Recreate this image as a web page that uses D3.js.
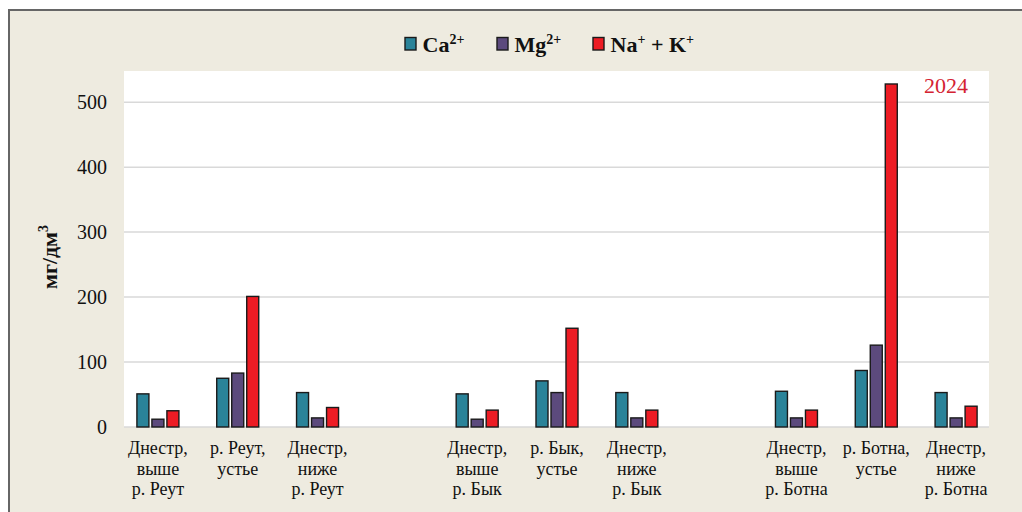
<!DOCTYPE html>
<html><head><meta charset="utf-8">
<script src="https://cdn.jsdelivr.net/npm/d3@7"></script>
<style>
html,body{margin:0;padding:0;background:#fff;}
svg{display:block;}
svg text{font-family:"Liberation Serif","Times New Roman",Tinos,"DejaVu Serif",serif;}
</style></head>
<body>
<svg id="chart" width="1022" height="512"></svg>
<script>
// ---- data ----
const categories = [
  ["Днестр,","выше","р. Реут"],
  ["р. Реут,","устье"],
  ["Днестр,","ниже","р. Реут"],
  [],
  ["Днестр,","выше","р. Бык"],
  ["р. Бык,","устье"],
  ["Днестр,","ниже","р. Бык"],
  [],
  ["Днестр,","выше","р. Ботна"],
  ["р. Ботна,","устье"],
  ["Днестр,","ниже","р. Ботна"]
];
const seriesNames = ["Ca", "Mg", "NaK"];
const ca  = [51, 75, 53, null, 51, 71, 53, null, 55, 87, 53];
const mg  = [12, 83, 14, null, 12, 53, 14, null, 14, 126, 14];
const nak = [25, 201, 30, null, 26, 152, 26, null, 26, 528, 32];
const yTicks = [0, 100, 200, 300, 400, 500];
const colors = {Ca: "#2A8399", Mg: "#5C4A7D", NaK: "#ED1C24"};
const yearLabel = "2024";
const yTitle = "мг/дм";

const seriesData = {Ca: ca, Mg: mg, NaK: nak};

const svg = d3.select("#chart");

// background frame
svg.append("rect").attr("x", 0).attr("y", 0).attr("width", 1022).attr("height", 512).attr("fill", "#fff");
svg.append("rect").attr("x", 9).attr("y", 10).attr("width", 1030).attr("height", 520)
  .attr("fill", "#EEEBE0").attr("stroke", "#666").attr("stroke-width", 2);

// plot area
const plot = {left: 124, right: 989, top: 71, bottom: 427};
svg.append("rect").attr("x", plot.left).attr("y", plot.top)
  .attr("width", plot.right - plot.left).attr("height", plot.bottom - plot.top).attr("fill", "#fff");

const x = d3.scaleBand().domain(d3.range(categories.length)).range([118, 996]).padding(0);
const x1 = d3.scaleBand().domain(seriesNames).range([-21, 21]).paddingInner(0.2).paddingOuter(0);
const y = d3.scaleLinear().domain([0, 548]).range([plot.bottom, plot.top]);

// gridlines
svg.append("g").selectAll("line").data(yTicks).join("line")
  .attr("x1", plot.left).attr("x2", plot.right)
  .attr("y1", d => y(d)).attr("y2", d => y(d))
  .attr("stroke", "#D9D9D9").attr("stroke-width", 1.5);

// y axis labels
const yAxis = d3.axisLeft(y).tickValues(yTicks).tickSize(0).tickPadding(17);
const ya = svg.append("g").attr("transform", `translate(${plot.left},0)`).call(yAxis);
ya.select(".domain").remove();
ya.attr("font-family", null).attr("font-size", null);
ya.selectAll("text").style("font-size", "20px").attr("fill", "#111");

// bars
const groups = svg.append("g").selectAll("g").data(d3.range(categories.length)).join("g")
  .attr("transform", i => `translate(${x(i) + x.bandwidth()/2},0)`);
groups.selectAll("rect")
  .data(i => seriesNames.map(s => ({s, v: seriesData[s][i]})).filter(d => d.v != null))
  .join("rect")
  .attr("x", d => x1(d.s)).attr("width", x1.bandwidth())
  .attr("y", d => y(d.v)).attr("height", d => y(0) - y(d.v))
  .attr("fill", d => colors[d.s]).attr("stroke", "#1a1a1a").attr("stroke-width", 1.4);

// x labels
const xl = svg.append("g").selectAll("text").data(d3.range(categories.length)).join("text")
  .attr("x", i => x(i) + x.bandwidth()/2).attr("y", 454)
  .attr("text-anchor", "middle").style("font-size", "18px").attr("fill", "#111");
xl.selectAll("tspan").data(i => categories[i]).join("tspan")
  .attr("x", function(){ return this.parentNode.getAttribute("x"); })
  .attr("dy", (d, j) => j === 0 ? 0 : 20.7)
  .text(d => d);

// y title
const yt = svg.append("text").attr("transform", "translate(57,257) rotate(-90)")
  .attr("text-anchor", "middle").style("font-size", "22px")
  .attr("font-weight", "bold").attr("fill", "#111");
yt.append("tspan").text(yTitle);
yt.append("tspan").style("font-size", "14px").attr("dy", -9).text("3");

// year label
svg.append("text").attr("x", 946).attr("y", 93).attr("text-anchor", "middle")
  .style("font-size", "22px").attr("fill", "#D42332").text(yearLabel);

// legend
const legendItems = [
  {s: "Ca", parts: [["Ca", 0], ["2+", 1]], x: 405},
  {s: "Mg", parts: [["Mg", 0], ["2+", 1]], x: 497},
  {s: "NaK", parts: [["Na", 0], ["+", 1], [" + K", 0], ["+", 1]], x: 593}
];
const lg = svg.append("g").selectAll("g").data(legendItems).join("g")
  .attr("transform", d => `translate(${d.x},0)`);
lg.append("rect").attr("x", 0).attr("y", 37.5).attr("width", 11).attr("height", 12.5)
  .attr("fill", d => colors[d.s]).attr("stroke", "#1a1a1a").attr("stroke-width", 1.4);
const lt = lg.append("text").attr("x", 17.5).attr("y", 51.5)
  .attr("font-weight", "bold").attr("fill", "#111");
lt.selectAll("tspan").data(d => d.parts).join("tspan")
  .style("font-size", d => d[1] ? "14px" : "22px")
  .attr("dy", (d, j, nodes) => {
    const prev = j > 0 ? d3.select(nodes[j-1]).datum()[1] : 0;
    if (d[1] && !prev) return -8;
    if (!d[1] && prev) return 8;
    return 0;
  })
  .text(d => d[0]);
</script>
</body></html>
